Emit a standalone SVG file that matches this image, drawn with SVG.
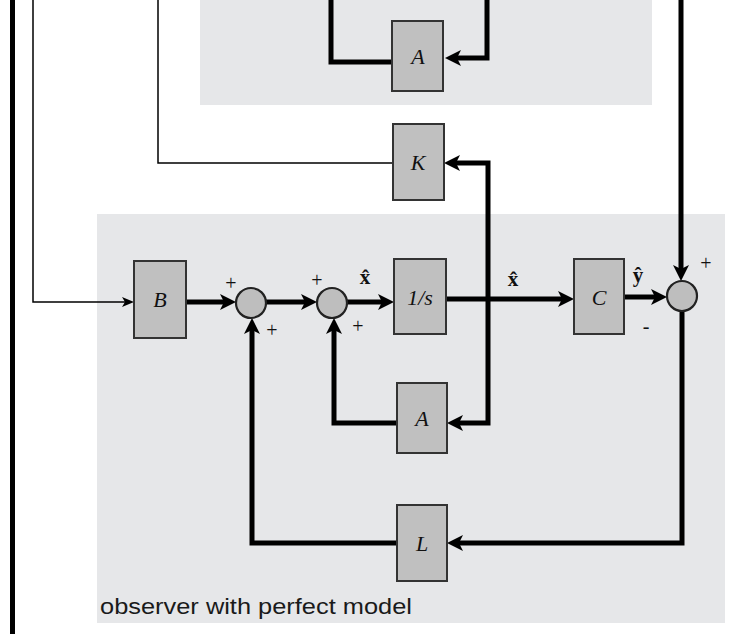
<svg xmlns="http://www.w3.org/2000/svg" width="744" height="634" viewBox="0 0 744 634">
  <style>
    .region { fill: #e6e7e9; stroke: none; }
    .box { fill: #c0c0c0; stroke: #333333; stroke-width: 2; }
    .sum { fill: #bebebe; stroke: #222222; stroke-width: 2.2; }
    .thick { fill: none; stroke: #000000; stroke-width: 5; }
    .thin { fill: none; stroke: #000000; stroke-width: 1.5; }
    .lbl { font-family: "Liberation Serif", "DejaVu Serif", serif; font-style: italic; font-size: 22px; fill: #111111; text-anchor: middle; }
    .sign { font-family: "Liberation Serif", "DejaVu Serif", serif; font-size: 20px; fill: #111111; text-anchor: middle; }
    .vec { font-family: "Liberation Serif", "DejaVu Serif", serif; font-weight: bold; font-size: 21px; fill: #111111; text-anchor: middle; }
    .cap { font-family: "Liberation Sans", Arial, sans-serif; font-size: 22px; fill: #1a1a1a; }
  </style>
  <defs>
    <marker id="ah" markerUnits="userSpaceOnUse" viewBox="0 0 16 16" markerWidth="16" markerHeight="16" refX="4" refY="8" orient="auto">
      <path d="M0,0 L16,8 L0,16 L4,8 z" fill="#000000"/>
    </marker>
    <marker id="ahs" markerUnits="userSpaceOnUse" viewBox="0 0 12 10" markerWidth="12" markerHeight="10" refX="3" refY="5" orient="auto">
      <path d="M0,0 L12,5 L0,10 L3,5 z" fill="#000000"/>
    </marker>
  </defs>

  <!-- background regions -->
  <rect id="plant-region" class="region" x="200" y="0" width="452" height="105"/>
  <rect id="observer-region" class="region" x="97" y="214" width="628" height="409"/>
  <text id="observer-caption" class="cap" x="100" y="614" textLength="312" lengthAdjust="spacingAndGlyphs">observer with perfect model</text>

  <!-- connectors -->
  <g id="connectors">
    <path class="thick" d="M12.5,0 V634" stroke-width="3"/>
    <path class="thin" d="M33,0 V302 H125" marker-end="url(#ahs)"/>
    <path class="thin" d="M158,0 V163 H392"/>
    <path class="thick" d="M331,0 V62 H392"/>
    <path class="thick" d="M487,0 V58 H457" marker-end="url(#ah)"/>
    <path class="thick" d="M681,0 V269" marker-end="url(#ah)"/>
    <path class="thick" d="M186,302 H224" marker-end="url(#ah)"/>
    <path class="thick" d="M266,302 H305" marker-end="url(#ah)"/>
    <path class="thick" d="M347,302 H382" marker-end="url(#ah)"/>
    <path class="thick" d="M446,299 H562" marker-end="url(#ah)"/>
    <path class="thick" d="M624,297 H655" marker-end="url(#ah)"/>
    <path class="thick" d="M488,299 V163 H456" marker-end="url(#ah)"/>
    <path class="thick" d="M488,299 V423 H459" marker-end="url(#ah)"/>
    <path class="thick" d="M682,311 V543 H459" marker-end="url(#ah)"/>
    <path class="thick" d="M397,543 H252 V330" marker-end="url(#ah)"/>
    <path class="thick" d="M397,423 H334 V330" marker-end="url(#ah)"/>
  </g>

  <!-- nodes -->
  <g id="A-plant">
    <rect class="box" x="392" y="21" width="51" height="70"/>
    <text class="lbl" x="418" y="64">A</text>
  </g>
  <g id="K">
    <rect class="box" x="393" y="124" width="51" height="76"/>
    <text class="lbl" x="418" y="170">K</text>
  </g>
  <g id="B">
    <rect class="box" x="134" y="261" width="52" height="77"/>
    <text class="lbl" x="160" y="307">B</text>
  </g>
  <g id="sum1">
    <circle class="sum" cx="251" cy="303" r="15"/>
    <text class="sign" x="231" y="290">+</text>
    <text class="sign" x="272" y="337">+</text>
  </g>
  <g id="sum2">
    <circle class="sum" cx="332" cy="303" r="15"/>
    <text class="sign" x="317" y="287">+</text>
    <text class="sign" x="358" y="333">+</text>
    <text class="vec" x="365" y="284">x&#x302;</text>
  </g>
  <g id="integrator">
    <rect class="box" x="394" y="259" width="52" height="75"/>
    <text class="lbl" x="420" y="305">1/s</text>
    <text class="vec" x="513" y="286">x&#x302;</text>
  </g>
  <g id="C">
    <rect class="box" x="574" y="259" width="50" height="75"/>
    <text class="lbl" x="599" y="305">C</text>
    <text class="vec" x="638" y="282">y&#x302;</text>
  </g>
  <g id="sum3">
    <circle class="sum" cx="682" cy="296" r="15"/>
    <text class="sign" x="706" y="270">+</text>
    <text class="sign" x="646" y="333">-</text>
  </g>
  <g id="A-observer">
    <rect class="box" x="397" y="383" width="50" height="70"/>
    <text class="lbl" x="422" y="426">A</text>
  </g>
  <g id="L">
    <rect class="box" x="397" y="505" width="50" height="76"/>
    <text class="lbl" x="422" y="551">L</text>
  </g>
</svg>
